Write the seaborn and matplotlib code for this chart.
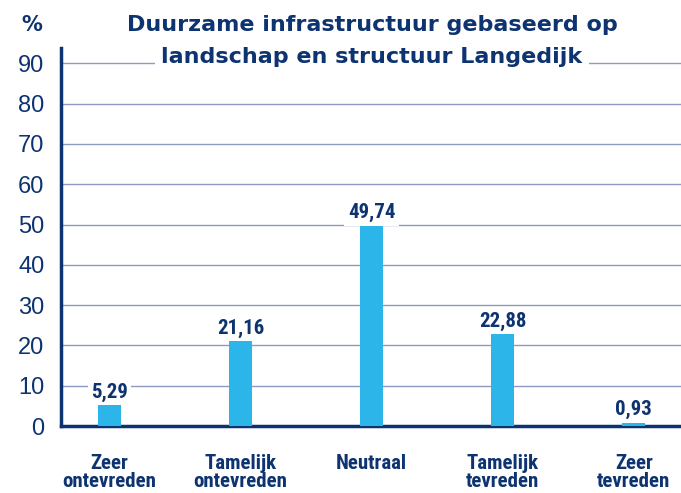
import pandas as pd
import seaborn as sns
import matplotlib.pyplot as plt

categories = ["Zeer\nontevreden", "Tamelijk\nontevreden", "Neutraal", "Tamelijk\ntevreden", "Zeer\ntevreden"]
values = [5.29, 21.16, 49.74, 22.88, 0.93]
value_labels = ["5,29", "21,16", "49,74", "22,88", "0,93"]
yticks = [0, 10, 20, 30, 40, 50, 60, 70, 80, 90]
title_lines = ["Duurzame infrastructuur gebaseerd op", "landschap en structuur Langedijk"]

NAVY = "#0d3370"
BAR = "#2bb5e8"
GRID = "#8b9ac0"

sns.set_style("white")
plt.rcParams['font.family'] = ['Roboto Condensed', 'DejaVu Sans']

df = pd.DataFrame({"cat": categories, "val": values})

fig = plt.figure(figsize=(6.81, 4.93), dpi=100)
ax = fig.add_axes([0.0896, 0.1359, 0.9104, 0.7667])

sns.barplot(data=df, x="cat", y="val", color=BAR, width=0.175, saturation=1, ax=ax,
            zorder=3, linewidth=0)

ax.set_xlim(-0.37, 4.36)
ax.set_ylim(0, 93.8)
ax.set_yticks(yticks)
ax.set_yticklabels([str(t) for t in yticks], fontsize=17, color=NAVY, family="Liberation Sans")
ax.yaxis.grid(True, color=GRID, linewidth=1.0, zorder=0)
ax.set_axisbelow(True)
ax.tick_params(axis="y", length=0, pad=12)
ax.tick_params(axis="x", length=0, pad=20)
for lbl in ax.get_xticklabels():
    lbl.set_fontsize(15)
    lbl.set_fontweight("bold")
    lbl.set_color(NAVY)
    lbl.set_linespacing(0.95)
ax.set_xlabel("")
ax.set_ylabel("")

for s in ["top", "right"]:
    ax.spines[s].set_visible(False)
for s in ["left", "bottom"]:
    ax.spines[s].set_color(NAVY)
    ax.spines[s].set_linewidth(2.5)

for i, (v, t) in enumerate(zip(values, value_labels)):
    ax.text(i, v + 1.8, t, ha="center", va="baseline", fontsize=15, fontweight="bold",
            color=NAVY, zorder=4,
            bbox=dict(facecolor="white", edgecolor="none", pad=2.5))

title_font = dict(family="DejaVu Sans", fontweight="bold", fontsize=16, color=NAVY)
fig.text(372 / 681, 1 - 31 / 493, title_lines[0], ha="center", va="baseline", **title_font)
fig.text(372 / 681, 1 - 63 / 493, title_lines[1], ha="center", va="baseline", zorder=5,
         bbox=dict(facecolor="white", edgecolor="none", pad=5), **title_font)
fig.text(32 / 681, 1 - 31 / 493, "%", ha="center", va="baseline", fontsize=15,
         fontweight="bold", family="DejaVu Sans", color=NAVY)

fig.savefig("out.png", dpi=100)
